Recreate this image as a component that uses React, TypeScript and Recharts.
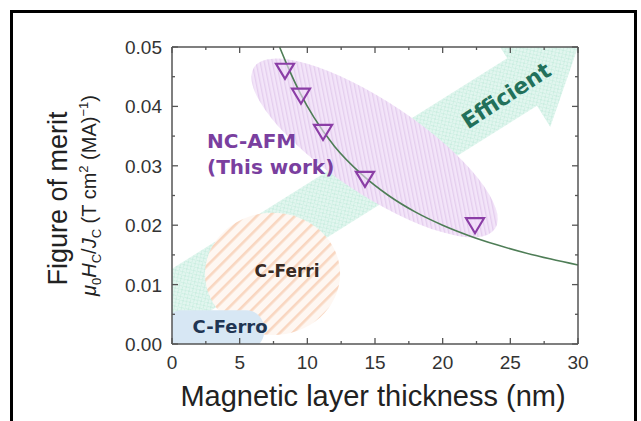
import React from 'react'
import {
  ComposedChart, Line, Scatter, XAxis, YAxis, ReferenceArea, ReferenceDot, Label,
} from 'recharts'

// measured NC-AFM samples
const thicknessNm = [8.35, 9.53, 11.16, 14.26, 22.39]
const meritValues = [0.046, 0.0418, 0.0357, 0.0278, 0.02]

// green fit line
const fitThickness = [7.95, 8.5, 9.5, 10.5, 12, 14, 16, 18, 20, 22, 24, 26, 28, 30]
const fitMerit = [0.05, 0.047, 0.0421, 0.0381, 0.0333, 0.0286, 0.025, 0.0222, 0.02, 0.0182, 0.0167, 0.0154, 0.0143, 0.0133]

const xTicks = [0, 2.5, 5, 7.5, 10, 12.5, 15, 17.5, 20, 22.5, 25, 27.5, 30]
const yTicks = [0, 0.005, 0.01, 0.015, 0.02, 0.025, 0.03, 0.035, 0.04, 0.045, 0.05]

// shaded regions (data coordinates of their bounding corners)
const afmRegionX = [6.06, 23.87]
const afmRegionY = [0.0194, 0.0466]
const arrowX = [0, 30]
const arrowY = [0.0071, 0.05]
const ferriX = [2.44, 12.42]
const ferriY = [0.0015, 0.0221]
const ferroX = [-0.6, 6.8]
const ferroY = [-0.001, 0.0057]

// text anchors
const afmLabelAt = [2.59, 0.033]
const ferriLabelAt = [8.5, 0.0113]
const ferroLabelAt = [4.29, 0.00185]
const efficientAt = [24.76, 0.0416]

const FRAME = '#555'
const AXIS_FONT = '"Liberation Sans", Arial, sans-serif'
const TAG_FONT = '"DejaVu Sans", Verdana, sans-serif'
const PURPLE = '#7a3f9f'
const CLIP = 'url(#plotClip)'

const points = thicknessNm.map((x, i) => ({ x, y: meritValues[i] }))
const fit = fitThickness.map((x, i) => ({ x, y: fitMerit[i] }))

const BottomTick = ({ x, y, payload }: any) => {
  const major = payload.value % 5 === 0
  return (
    <g>
      <line x1={x} x2={x} y1={y} y2={y - (major ? 6 : 3)} stroke={FRAME} strokeWidth={1.3} />
      {major && (
        <text x={x} y={y + 25} textAnchor="middle" fontFamily={AXIS_FONT} fontSize={19} fill="#333">
          {payload.value}
        </text>
      )}
    </g>
  )
}

const TopTick = ({ x, y, payload }: any) => {
  const major = payload.value % 5 === 0
  return <line x1={x} x2={x} y1={y} y2={y + (major ? 6 : 3)} stroke={FRAME} strokeWidth={1.3} />
}

const isMajorY = (v: number) => Math.round(v * 1000) % 10 === 0

const LeftTick = ({ x, y, payload }: any) => {
  const major = isMajorY(payload.value)
  return (
    <g>
      <line x1={x} x2={x + (major ? 6 : 3)} y1={y} y2={y} stroke={FRAME} strokeWidth={1.3} />
      {major && (
        <text x={x - 10} y={y + 7} textAnchor="end" fontFamily={AXIS_FONT} fontSize={19} fill="#333">
          {payload.value.toFixed(2)}
        </text>
      )}
    </g>
  )
}

const RightTick = ({ x, y, payload }: any) => {
  const major = isMajorY(payload.value)
  return <line x1={x} x2={x - (major ? 6 : 3)} y1={y} y2={y} stroke={FRAME} strokeWidth={1.3} />
}

const XTitle = ({ viewBox }: any) => (
  <text
    x={viewBox.x + viewBox.width / 2 - 2}
    y={viewBox.y + 62}
    textAnchor="middle"
    fontFamily={AXIS_FONT}
    fontSize={29}
    fill="#222"
  >
    Magnetic layer thickness (nm)
  </text>
)

const YTitle = ({ viewBox }: any) => {
  const cy = viewBox.y + viewBox.height / 2
  return (
    <g fontFamily={AXIS_FONT} fill="#222">
      <text x={67} y={cy + 3} transform={`rotate(-90 67 ${cy + 3})`} textAnchor="middle" fontSize={27}>
        Figure of merit
      </text>
      <text x={96} y={cy} transform={`rotate(-90 96 ${cy})`} textAnchor="middle" fontSize={20}>
        <tspan fontStyle="italic">μ</tspan>
        <tspan fontSize={13} dy={5}>0</tspan>
        <tspan fontStyle="italic" dy={-5}>H</tspan>
        <tspan fontSize={13} dy={5}>C</tspan>
        <tspan dy={-5}>/</tspan>
        <tspan fontStyle="italic">J</tspan>
        <tspan fontSize={13} dy={5}>C</tspan>
        <tspan dy={-5}> (T cm</tspan>
        <tspan fontSize={13} dy={-8}>2</tspan>
        <tspan dy={8}> (MA)</tspan>
        <tspan fontSize={13} dy={-8}>−1</tspan>
        <tspan dy={8}>)</tspan>
      </text>
    </g>
  )
}

// full-domain area: defines the clip rectangle for the shaded regions
const PlotClip = ({ x, y, width, height }: any) => (
  <defs>
    <clipPath id="plotClip">
      <rect x={x} y={y} width={width} height={height} />
    </clipPath>
  </defs>
)

// ellipse whose long axis joins two opposite corners of the area box
const tilted = (minor: number, fill: string, defs: React.ReactNode) => (p: any) => {
  const { x, y, width, height } = p
  const cx = x + width / 2
  const cy = y + height / 2
  const angle = (Math.atan2(height, width) * 180) / Math.PI
  return (
    <g clipPath={CLIP}>
      <defs>{defs}</defs>
      <ellipse cx={cx} cy={cy} rx={Math.hypot(width, height) / 2} ry={minor} fill={fill}
        transform={`rotate(${angle} ${cx} ${cy})`} />
    </g>
  )
}

const ArrowShape = (p: any) => {
  const { x, y, width, height } = p
  const len = Math.hypot(width, height)
  const angle = (Math.atan2(height, width) * 180) / Math.PI
  const sw = 28, hw = 53, hl = 66
  const pts = [[-60, -sw], [len - hl, -sw], [len - hl, -hw], [len, 0], [len - hl, hw], [len - hl, sw], [-60, sw]]
  return (
    <g clipPath={CLIP}>
      <defs>
        <pattern id="mint" patternUnits="userSpaceOnUse" width={5} height={5}>
          <rect width={5} height={5} fill="#e2f6ef" />
          <path d="M0,0 L5,5 M5,0 L0,5" stroke="#cbeee1" strokeWidth={1} />
        </pattern>
      </defs>
      <polygon
        points={pts.map(q => q.join(',')).join(' ')}
        fill="url(#mint)"
        transform={`translate(${x} ${y + height}) rotate(${-angle})`}
      />
    </g>
  )
}

const Triangle = ({ cx, cy }: any) => (
  <polygon
    points={`${cx - 9},${cy - 7} ${cx + 9},${cy - 7} ${cx},${cy + 8}`}
    fill="rgba(242,222,250,0.6)"
    stroke="#8b3ea6"
    strokeWidth={2.2}
  />
)

const App = () => (
  <div style={{ position: 'absolute', left: 0, top: 0, width: 641, height: 421, background: '#fff', overflow: 'hidden' }}>
    <div style={{
      position: 'absolute', left: 10, top: 10, width: 627, height: 440,
      border: '3px solid #000', boxSizing: 'border-box',
    }} />
    <ComposedChart width={641} height={421} margin={{ top: 46, right: 62, left: 0, bottom: 0 }}>
      <XAxis dataKey="x" type="number" domain={[0, 30]} ticks={xTicks} interval={0}
        height={77} tickSize={0} tickMargin={0} tickLine={false}
        axisLine={{ stroke: FRAME, strokeWidth: 1.5 }} tick={(p: any) => <BottomTick {...p} />}>
        <Label content={XTitle} />
      </XAxis>
      <XAxis xAxisId="top" dataKey="x" orientation="top" type="number" domain={[0, 30]} ticks={xTicks} interval={0}
        height={1} tickSize={0} tickMargin={0} tickLine={false}
        axisLine={{ stroke: FRAME, strokeWidth: 1.5 }} tick={(p: any) => <TopTick {...p} />} />
      <YAxis type="number" domain={[0, 0.05]} ticks={yTicks} interval={0}
        width={172} tickSize={0} tickMargin={0} tickLine={false}
        axisLine={{ stroke: FRAME, strokeWidth: 1.5 }} tick={(p: any) => <LeftTick {...p} />}>
        <Label content={YTitle} />
      </YAxis>
      <YAxis yAxisId="right" orientation="right" type="number" domain={[0, 0.05]} ticks={yTicks} interval={0}
        width={1} tickSize={0} tickMargin={0} tickLine={false}
        axisLine={{ stroke: FRAME, strokeWidth: 1.5 }} tick={(p: any) => <RightTick {...p} />} />

      <ReferenceArea x1={0} x2={30} y1={0} y2={0.05} ifOverflow="visible" shape={PlotClip} />
      <ReferenceArea x1={arrowX[0]} x2={arrowX[1]} y1={arrowY[0]} y2={arrowY[1]}
        ifOverflow="visible" shape={ArrowShape} />
      <ReferenceArea x1={ferriX[0]} x2={ferriX[1]} y1={ferriY[0]} y2={ferriY[1]} ifOverflow="visible"
        shape={(p: any) => (
          <g clipPath={CLIP}>
            <defs>
              <pattern id="peach" patternUnits="userSpaceOnUse" width={9} height={9} patternTransform="rotate(45)">
                <rect width={9} height={9} fill="#fef7f2" />
                <rect width={2.6} height={9} fill="#f9d6c0" />
              </pattern>
            </defs>
            <ellipse cx={p.x + p.width / 2} cy={p.y + p.height / 2} rx={p.width / 2} ry={p.height / 2} fill="url(#peach)" />
          </g>
        )} />
      <ReferenceArea x1={ferroX[0]} x2={ferroX[1]} y1={ferroY[0]} y2={ferroY[1]} ifOverflow="visible"
        shape={(p: any) => (
          <rect x={p.x} y={p.y} width={p.width} height={p.height} rx={18} fill="#d7e7f4" clipPath={CLIP} />
        )} />
      <ReferenceArea x1={afmRegionX[0]} x2={afmRegionX[1]} y1={afmRegionY[0]} y2={afmRegionY[1]}
        ifOverflow="visible"
        shape={tilted(46, 'url(#lilac)', (
          <pattern id="lilac" patternUnits="userSpaceOnUse" width={4} height={4} patternTransform="rotate(-45)">
            <rect width={4} height={4} fill="#f3e5f9" />
            <rect width={1.3} height={4} fill="#e4cdee" />
          </pattern>
        ))} />

      <ReferenceDot x={efficientAt[0]} y={efficientAt[1]} r={0} ifOverflow="visible"
        shape={(p: any) => (
          <text x={p.cx} y={p.cy} transform={`rotate(-33 ${p.cx} ${p.cy})`} textAnchor="middle"
            dominantBaseline="middle" fontFamily={TAG_FONT} fontWeight="bold" fontSize={22} fill="#22705a">
            Efficient
          </text>
        )} />
      <ReferenceDot x={afmLabelAt[0]} y={afmLabelAt[1]} r={0} ifOverflow="visible"
        shape={(p: any) => (
          <text x={p.cx} y={p.cy} fontFamily={TAG_FONT} fontWeight="bold" fontSize={20} fill={PURPLE}>
            <tspan x={p.cx}>NC-AFM</tspan>
            <tspan x={p.cx} dy={26}>(This work)</tspan>
          </text>
        )} />
      <ReferenceDot x={ferriLabelAt[0]} y={ferriLabelAt[1]} r={0} ifOverflow="visible"
        shape={(p: any) => (
          <text x={p.cx} y={p.cy} textAnchor="middle" fontFamily={TAG_FONT} fontWeight="bold" fontSize={17} fill="#3a2a22">
            C-Ferri
          </text>
        )} />
      <ReferenceDot x={ferroLabelAt[0]} y={ferroLabelAt[1]} r={0} ifOverflow="visible"
        shape={(p: any) => (
          <text x={p.cx} y={p.cy} textAnchor="middle" fontFamily={TAG_FONT} fontWeight="bold" fontSize={18} fill="#1f3553">
            C-Ferro
          </text>
        )} />

      {/* fit line sits on the top/right axes (same domains), so the frame gets all four sides */}
      <Line data={fit} dataKey="y" xAxisId="top" yAxisId="right" type="monotone" stroke="#4e7d56" strokeWidth={1.6}
        dot={false} activeDot={false} isAnimationActive={false} />
      <Scatter data={points} dataKey="y" shape={Triangle} isAnimationActive={false} />
    </ComposedChart>
  </div>
)

export default App
